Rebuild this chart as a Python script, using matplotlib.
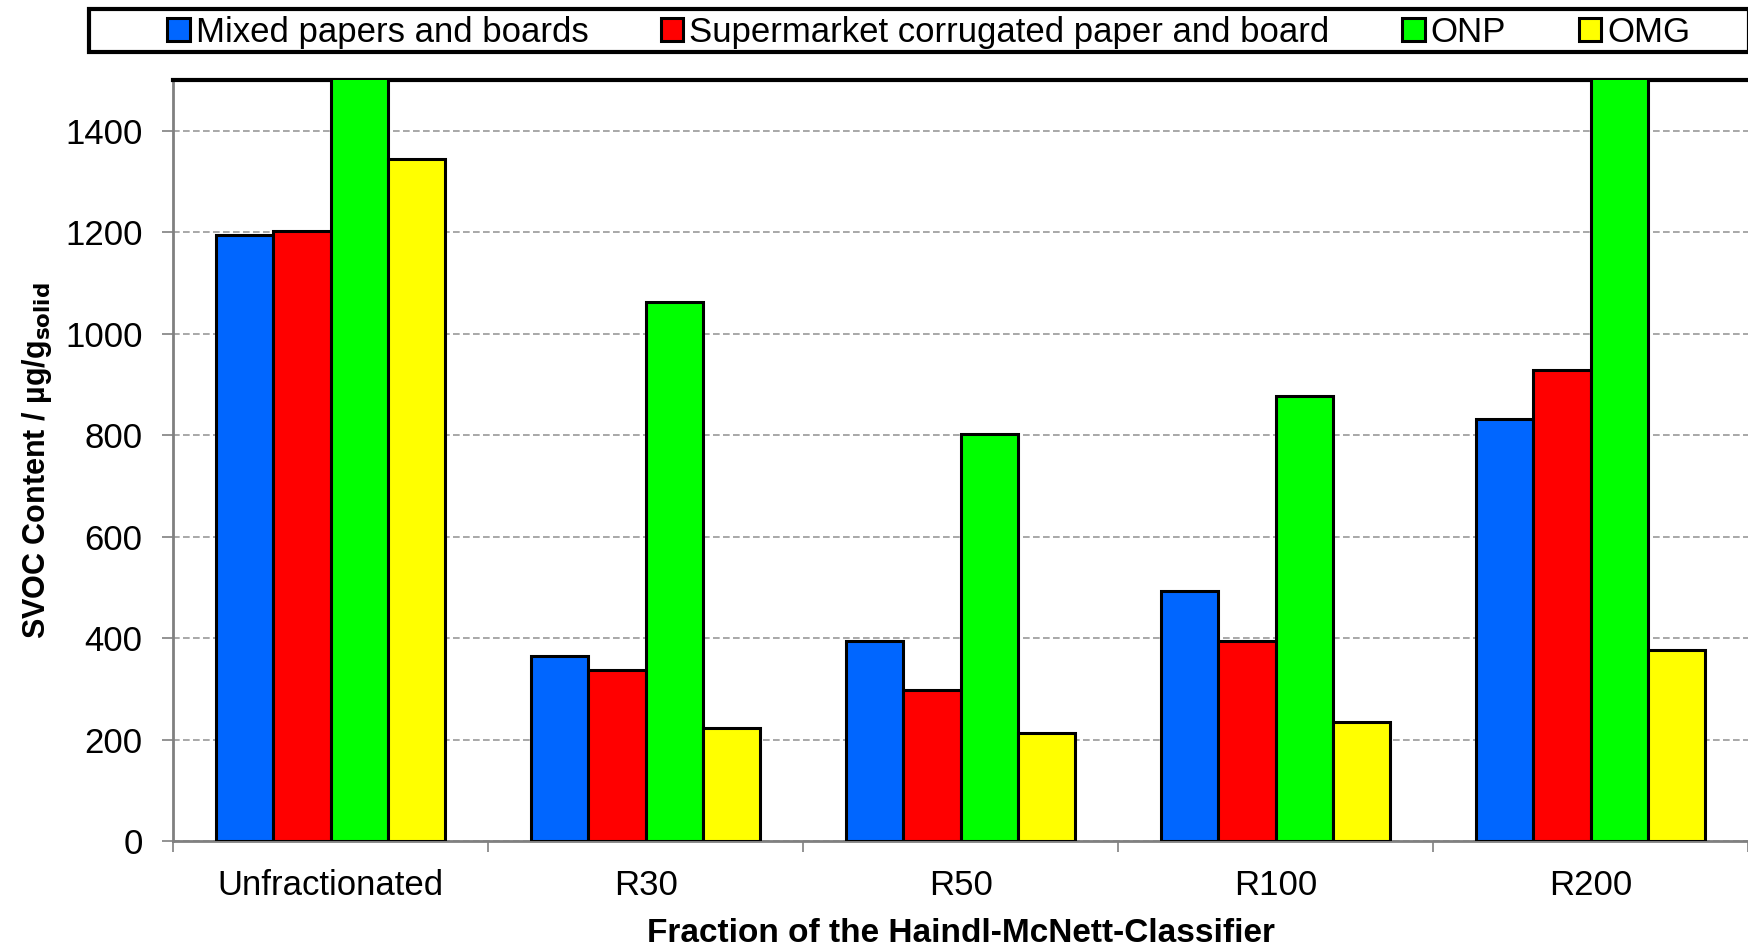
"""Grouped bar chart of SVOC content per fraction."""
import matplotlib.pyplot as plt
import numpy as np
from matplotlib.patches import Rectangle

plt.rcParams["font.family"] = ["Liberation Sans", "DejaVu Sans"]

# Data (ONP bars for Unfractionated and R200 run off the scale)
fractions = ["Unfractionated", "R30", "R50", "R100", "R200"]
series_names = [
    "Mixed papers and boards",
    "Supermarket corrugated paper and board",
    "ONP",
    "OMG",
]
mixed = [1195, 365, 394, 493, 832]
supermarket = [1202, 337, 297, 394, 929]
onp = [1700, 1063, 803, 878, 1700]
omg = [1345, 222, 213, 235, 376]
colors = ["#0066ff", "#ff0000", "#00ff00", "#ffff00"]


def main():
    fig = plt.figure(figsize=(17.49, 9.46), dpi=100)
    ax = fig.add_axes([0.099, 0.111, 0.9005, 0.8044])

    x = np.arange(len(fractions))
    width = 0.182
    for i, (vals, name, col) in enumerate(
        zip([mixed, supermarket, onp, omg], series_names, colors)
    ):
        ax.bar(
            x + (i - 1.5) * width,
            vals,
            width,
            color=col,
            edgecolor="black",
            linewidth=2.2,
            label=name,
            zorder=3,
        )

    ax.set_xlim(-0.5, len(fractions) - 0.5)
    ax.set_ylim(0, 1500)
    ax.set_yticks(np.arange(0, 1401, 200))
    ax.yaxis.grid(True, linestyle=(0, (4, 2)), color="#999999", linewidth=1.2, zorder=0)

    # category labels at centres, tick marks at the boundaries
    ax.set_xticks(np.arange(-0.5, len(fractions), 1.0))
    ax.set_xticklabels([])
    ax.set_xticks(x, minor=True)
    ax.set_xticklabels(fractions, minor=True)
    ax.tick_params(axis="x", which="major", length=8, width=1.2, color="#808080")
    ax.tick_params(axis="x", which="minor", length=0, pad=20, labelsize=25)
    ax.tick_params(axis="y", length=8, width=1.2, color="#808080", labelsize=25, pad=14)

    ax.spines["right"].set_visible(False)
    ax.spines["top"].set_color("black")
    ax.spines["top"].set_linewidth(3)
    for side in ["left", "bottom"]:
        ax.spines[side].set_color("#808080")
        ax.spines[side].set_linewidth(2)

    ax.set_xlabel(
        "Fraction of the Haindl-McNett-Classifier",
        fontsize=24,
        fontweight="bold",
        labelpad=12,
    )
    ax.set_ylabel(
        r"SVOC Content / µg/g$_{\mathbf{solid}}$",
        fontsize=22,
        fontweight="bold",
        labelpad=8,
    )

    # legend row without its own frame, boxed by a full-width rectangle
    fig.legend(
        loc="center left",
        bbox_to_anchor=(0.0957, 0.9655),
        ncol=4,
        fontsize=25,
        frameon=False,
        handlelength=0.64,
        handleheight=0.64,
        handletextpad=0.17,
        columnspacing=2.1,
        borderpad=0,
        borderaxespad=0,
    )
    fig.patches.append(
        Rectangle(
            (0.0509, 0.945),
            0.9491,
            0.0455,
            transform=fig.transFigure,
            fill=False,
            edgecolor="black",
            linewidth=3,
        )
    )

    fig.savefig("out.png", dpi=100)


if __name__ == "__main__":
    main()
